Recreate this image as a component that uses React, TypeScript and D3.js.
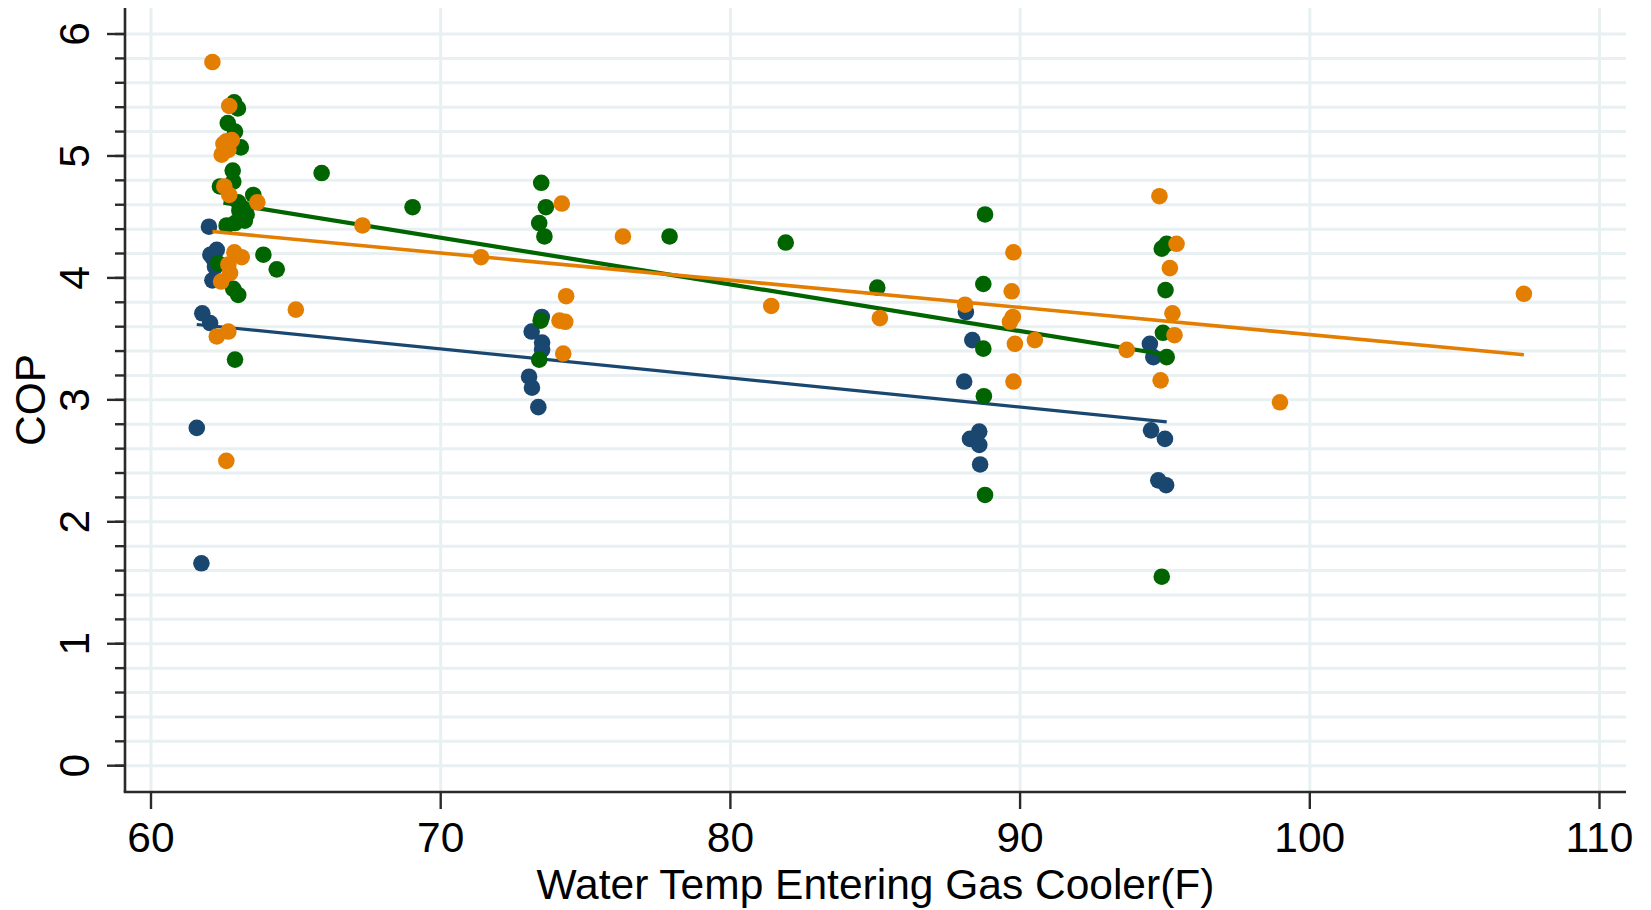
import React from "react";
import * as d3 from "d3";

// COP vs. water temperature entering the gas cooler, three groups with linear fits
type Pt = [number, number];

const xTicks = [60, 70, 80, 90, 100, 110];
const yTicks = [0, 1, 2, 3, 4, 5, 6];
const yMinorStep = 0.2;

const navyPoints: Pt[] = [
  [61.58, 2.77], [61.74, 1.66], [61.77, 3.71], [62.04, 3.63], [62.0, 4.42],
  [62.27, 4.23], [62.15, 4.16], [62.21, 4.09], [62.12, 3.98], [62.05, 4.19],
  [73.05, 3.19], [73.15, 3.1], [73.37, 2.94], [73.14, 3.56], [73.49, 3.68],
  [73.5, 3.47], [73.5, 3.41],
  [88.13, 3.72], [88.35, 3.49], [88.07, 3.15], [88.27, 2.68], [88.59, 2.74],
  [88.59, 2.63], [88.62, 2.47],
  [94.48, 3.46], [94.6, 3.35], [94.52, 2.75], [95.0, 2.68], [94.77, 2.34], [95.04, 2.3],
];

const greenPoints: Pt[] = [
  [62.87, 5.44], [63.0, 5.39], [62.65, 5.27], [62.9, 5.2], [63.1, 5.07],
  [62.82, 4.88], [62.84, 4.79], [62.38, 4.75], [63.53, 4.68], [63.01, 4.62],
  [63.18, 4.57], [63.3, 4.52], [62.61, 4.43], [62.9, 4.45], [63.24, 4.47],
  [63.05, 4.55], [62.32, 4.12], [62.84, 3.91], [63.01, 3.86], [63.88, 4.19],
  [64.34, 4.07], [62.9, 3.33],
  [65.89, 4.86], [69.03, 4.58], [73.47, 4.78], [73.63, 4.58], [73.4, 4.45],
  [73.58, 4.34], [73.45, 3.65], [73.4, 3.33], [77.9, 4.34], [81.91, 4.29], [85.07, 3.92],
  [88.79, 4.52], [88.73, 3.95], [88.73, 3.42], [88.75, 3.03], [88.79, 2.22],
  [94.89, 4.24], [95.06, 4.28], [95.02, 3.9], [94.93, 3.55], [95.06, 3.35], [94.89, 1.55],
];

const orangePoints: Pt[] = [
  [62.12, 5.77], [62.7, 5.41], [62.79, 5.13], [62.5, 5.1], [62.67, 5.05],
  [62.44, 5.01], [62.6, 5.12], [62.53, 4.75], [62.7, 4.68], [63.67, 4.62],
  [62.88, 4.21], [63.13, 4.17], [62.67, 4.11], [62.73, 4.04], [62.42, 3.97],
  [62.27, 3.52], [62.67, 3.56], [62.6, 2.5], [67.3, 4.43], [65.0, 3.74],
  [71.39, 4.17], [74.18, 4.61], [76.29, 4.34], [74.33, 3.85], [74.1, 3.65],
  [74.3, 3.64], [74.23, 3.38], [81.41, 3.77], [85.16, 3.67],
  [88.1, 3.78], [89.77, 4.21], [89.71, 3.89], [89.75, 3.68], [89.65, 3.64],
  [89.82, 3.46], [90.51, 3.49], [89.77, 3.15], [93.68, 3.41],
  [94.81, 4.67], [95.4, 4.28], [95.17, 4.08], [95.26, 3.71], [95.33, 3.53], [94.85, 3.16],
  [98.97, 2.98], [107.39, 3.87],
];

// Fitted-line endpoints for each group
const navyFit: Pt[] = [[61.58, 3.618], [95.06, 2.82]];
const greenFit: Pt[] = [[62.5, 4.617], [95.06, 3.37]];
const orangeFit: Pt[] = [[62.12, 4.38], [107.39, 3.37]];

const W = 1651;
const H = 910;
const plot = { left: 125, right: 1626, top: 8, bottom: 792 };

const x = d3.scaleLinear().domain([59.1025, 110.915]).range([plot.left, plot.right]);
const y = d3.scaleLinear().domain([-0.2157, 6.2133]).range([plot.bottom, plot.top]);

const line = d3
  .line<Pt>()
  .x((d) => x(d[0]))
  .y((d) => y(d[1]));

const FONT = "'Liberation Sans', Arial, Helvetica, sans-serif";
const GRID = "#e8f0f2";
const AXIS = "#2a2a2a";
const FS = 42.5;

const series = [
  { pts: navyPoints, fit: navyFit, color: "#1a476f", width: 3.2 },
  { pts: greenPoints, fit: greenFit, color: "#006400", width: 4.2 },
  { pts: orangePoints, fit: orangeFit, color: "#e37e00", width: 3.6 },
];

export default function App() {
  const minor = d3.range(0, 6 + 1e-9, yMinorStep);
  return (
    <div style={{ position: "absolute", left: 0, top: 0 }}>
      <svg width={W} height={H} style={{ display: "block", background: "#fff" }}>
        <rect x={0} y={0} width={W} height={H} fill="#fff" />
        {/* grid */}
        {minor.map((v, i) => (
          <line key={"hg" + i} x1={plot.left} x2={plot.right} y1={y(v)} y2={y(v)} stroke={GRID} strokeWidth={3} />
        ))}
        {xTicks.map((v) => (
          <line key={"vg" + v} x1={x(v)} x2={x(v)} y1={plot.top} y2={plot.bottom} stroke={GRID} strokeWidth={3} />
        ))}
        {/* marks */}
        {series.map((s, si) => (
          <g key={"s" + si}>
            {s.pts.map((p, i) => (
              <circle key={i} cx={x(p[0])} cy={y(p[1])} r={8.3} fill={s.color} />
            ))}
            <path d={line(s.fit) ?? ""} fill="none" stroke={s.color} strokeWidth={s.width} />
          </g>
        ))}
        {/* axes */}
        <line x1={plot.left} x2={plot.left} y1={plot.top} y2={plot.bottom} stroke={AXIS} strokeWidth={2.6} />
        <line x1={plot.left - 1.3} x2={plot.right} y1={plot.bottom} y2={plot.bottom} stroke={AXIS} strokeWidth={2.6} />
        {minor.map((v, i) => (
          <line key={"mt" + i} x1={plot.left - 10} x2={plot.left} y1={y(v)} y2={y(v)} stroke={AXIS} strokeWidth={2.4} />
        ))}
        {yTicks.map((v) => (
          <g key={"yt" + v}>
            <line x1={plot.left - 18} x2={plot.left} y1={y(v)} y2={y(v)} stroke={AXIS} strokeWidth={2.4} />
            <text
              transform={`translate(89,${y(v)}) rotate(-90)`}
              textAnchor="middle"
              fontFamily={FONT}
              fontSize={FS}
              fill="#000"
            >
              {v}
            </text>
          </g>
        ))}
        {xTicks.map((v) => (
          <g key={"xt" + v}>
            <line x1={x(v)} x2={x(v)} y1={plot.bottom} y2={plot.bottom + 17} stroke={AXIS} strokeWidth={2.4} />
            <text x={x(v)} y={851.5} textAnchor="middle" fontFamily={FONT} fontSize={FS} fill="#000">
              {v}
            </text>
          </g>
        ))}
        <text
          x={(plot.left + plot.right) / 2}
          y={898.5}
          textAnchor="middle"
          fontFamily={FONT}
          fontSize={FS}
          fill="#000"
        >
          Water Temp Entering Gas Cooler(F)
        </text>
        <text
          transform={`translate(45,${(plot.top + plot.bottom) / 2}) rotate(-90)`}
          textAnchor="middle"
          fontFamily={FONT}
          fontSize={FS}
          fill="#000"
        >
          COP
        </text>
      </svg>
    </div>
  );
}
